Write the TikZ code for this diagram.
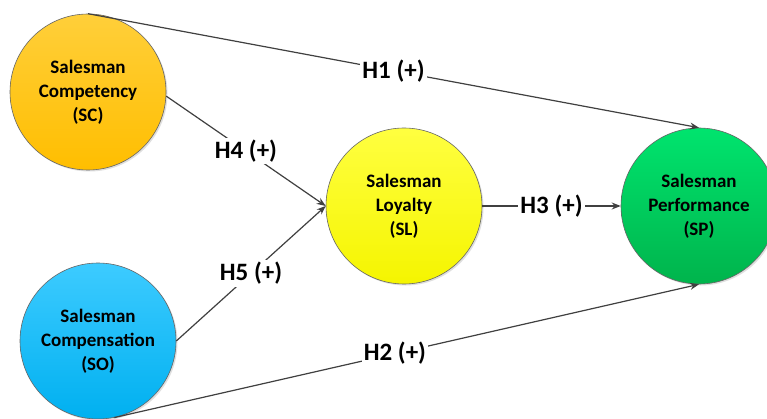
\documentclass[tikz,border=0pt]{standalone}
\usepackage{fontspec}
\setmainfont{Carlito}
\usetikzlibrary{arrows.meta,shadows}
\definecolor{edgegray}{HTML}{404040}
\definecolor{scTop}{HTML}{FFCF3A}
\definecolor{scBot}{HTML}{FFBE00}
\definecolor{soTop}{HTML}{3DCBFF}
\definecolor{soBot}{HTML}{00B0F0}
\definecolor{slTop}{HTML}{FFFF40}
\definecolor{slBot}{HTML}{F5F500}
\definecolor{spTop}{HTML}{00E46E}
\definecolor{spBot}{HTML}{00B44C}
\tikzset{
  construct/.style={circle, draw=black!60, line width=0.6pt, minimum size=156pt, inner sep=0pt,
    align=center, font=\fontsize{19}{24}\selectfont\bfseries,
    drop shadow={shadow xshift=1.5pt, shadow yshift=-1.5pt, opacity=0.25}},
  path/.style={draw=edgegray, line width=1.2pt, -{Stealth[length=9pt,width=7pt]}},
  hyp/.style={fill=white, inner sep=2pt, font=\fontsize{25}{28}\selectfont\bfseries, text=black},
}
\begin{document}
\begin{tikzpicture}[x=1pt,y=-1pt]
\useasboundingbox (0,0) rectangle (767,419);
\fill[white] (0,0) rectangle (767,419);
\node[construct, top color=scTop, bottom color=scBot] (SC) at (88,92) {Salesman\\Competency\\(SC)};
\node[construct, top color=soTop, bottom color=soBot] (SO) at (98,341) {Salesman\\Compensation\\(SO)};
\node[construct, top color=slTop, bottom color=slBot] (SL) at (404,206) {Salesman\\Loyalty\\(SL)};
\node[construct, top color=spTop, bottom color=spBot] (SP) at (699,206) {Salesman\\Performance\\(SP)};
\draw[path] (SC.north) -- node[hyp] {H1 (+)} (SP.north);
\draw[path] (SC.-3) -- node[hyp] {H4 (+)} (SL.west);
\draw[path] (SO.east) -- node[hyp] {H5 (+)} (SL.west);
\draw[path] (SL.east) -- node[hyp] {H3 (+)} (SP.west);
\draw[path] (SO.-78) -- node[hyp, pos=0.48] {H2 (+)} (SP.south);
\end{tikzpicture}
\end{document}
